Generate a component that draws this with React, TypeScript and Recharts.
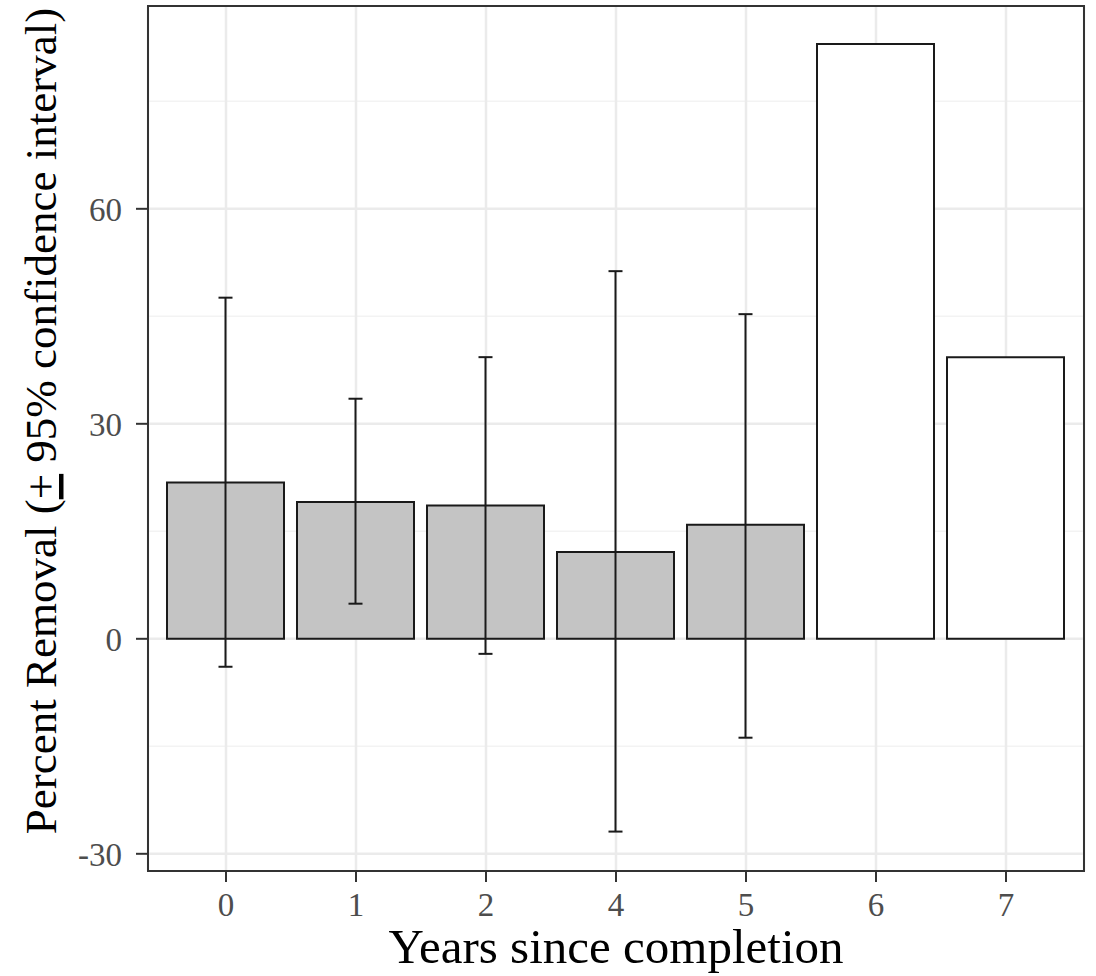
import React from 'react';
import {
  ComposedChart,
  Bar,
  ErrorBar,
  XAxis,
  YAxis,
  CartesianGrid,
  ReferenceArea,
  Cell,
  Label,
} from 'recharts';

// years since completion (there is no year 3 in the survey)
const years = ['0', '1', '2', '4', '5', '6', '7'];
const removal = [21.8, 19.1, 18.6, 12.1, 15.9, 83.0, 39.3];
// 95% CI bounds, null where only one site was measured
const ciLower: (number | null)[] = [-3.9, 4.9, -2.1, -26.9, -13.8, null, null];
const ciUpper: (number | null)[] = [47.6, 33.5, 39.3, 51.3, 45.3, null, null];

const majorTicks = [-30, 0, 30, 60];
const minorTicks = [-15, 15, 45, 75];

const data = years.map((year, i) => {
  const lo = ciLower[i];
  const hi = ciUpper[i];
  return {
    pos: i,
    year,
    value: removal[i],
    err: lo == null || hi == null ? null : [removal[i] - lo, hi - removal[i]],
  };
});

const serif = '"Liberation Serif", "Times New Roman", serif';
const tickStyle = { fill: '#4d4d4d', fontSize: 33, fontFamily: serif };

const YTitle = () => (
  <text
    transform="translate(56, 421) rotate(-90)"
    textAnchor="middle"
    fontFamily={serif}
    fontSize={45}
    fill="#000"
  >
    Percent Removal (<tspan textDecoration="underline">+</tspan> 95% confidence interval)
  </text>
);

export default function App() {
  return (
    <div style={{ position: 'absolute', left: 0, top: 0, background: '#fff' }}>
      <ComposedChart
        width={1096}
        height={976}
        data={data}
        margin={{ top: 6, right: 12, left: 0, bottom: 0 }}
      >
        <CartesianGrid
          horizontalValues={minorTicks}
          vertical={false}
          stroke="#f3f3f3"
          strokeWidth={1.5}
        />
        <CartesianGrid
          horizontalValues={majorTicks}
          stroke="#ebebeb"
          strokeWidth={2.5}
        />
        <XAxis
          dataKey="pos"
          type="number"
          domain={[-0.6, years.length - 0.4]}
          ticks={years.map((_, i) => i)}
          tickFormatter={(i: number) => years[i]}
          allowDataOverflow
          height={105}
          axisLine={false}
          tickLine={{ stroke: '#333', strokeWidth: 2 }}
          tickSize={11}
          tickMargin={11}
          tick={tickStyle}
        >
          <Label
            value="Years since completion"
            position="insideBottom"
            offset={13}
            style={{ fontFamily: serif, fontSize: 49, fill: '#000' }}
          />
        </XAxis>
        <YAxis
          type="number"
          domain={[-32.4, 88.3]}
          ticks={majorTicks}
          allowDataOverflow
          width={148}
          axisLine={false}
          tickLine={{ stroke: '#333', strokeWidth: 2 }}
          tickSize={12}
          tickMargin={14}
          tick={tickStyle}
        >
          <Label content={<YTitle />} />
        </YAxis>
        <Bar
          dataKey="value"
          barSize={117}
          stroke="#1a1a1a"
          strokeWidth={2}
          isAnimationActive={false}
        >
          {data.map((d, i) => (
            <Cell key={`bar-${i}`} fill={d.err ? '#c4c4c4' : '#ffffff'} />
          ))}
          <ErrorBar
            dataKey="err"
            direction="y"
            width={7}
            stroke="#1a1a1a"
            strokeWidth={2}
            isAnimationActive={false}
          />
        </Bar>
        <ReferenceArea
          y1={-32.4}
          y2={88.3}
          fill="none"
          stroke="#333"
          strokeWidth={2}
          ifOverflow="visible"
        />
      </ComposedChart>
    </div>
  );
}
